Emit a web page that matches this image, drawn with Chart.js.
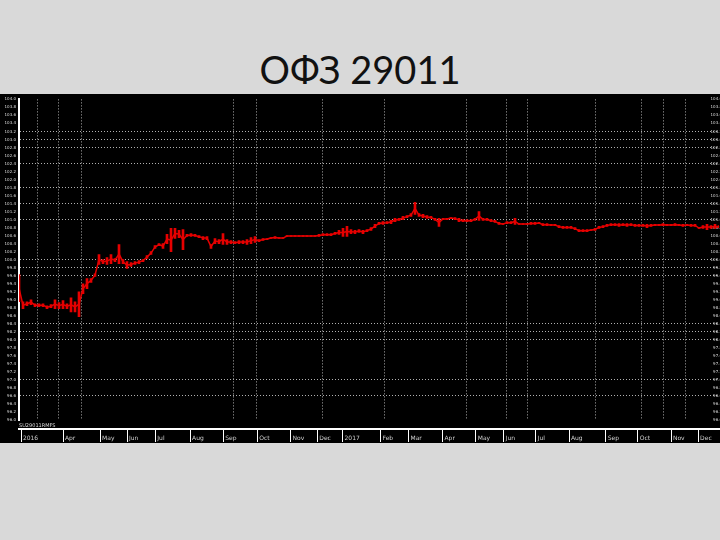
<!DOCTYPE html>
<html>
<head>
<meta charset="utf-8">
<script src="https://cdn.jsdelivr.net/npm/chart.js@4.4.1/dist/chart.umd.min.js"></script>
<style>
  body { margin: 0; width: 720px; height: 540px; background: #d9d9d9; overflow: hidden; position: relative; }
  #title { position: absolute; top: 50px; left: 0; width: 720px; text-align: center;
           font-family: Lato, "Open Sans", sans-serif; font-size: 38px; line-height: 1; color: #111; }
  #wrap { position: absolute; top: 94px; left: 0; width: 720px; height: 349px; background: #000; }
</style>
</head>
<body>
<div id="title">ОФЗ 29011</div>
<div id="wrap"><canvas id="chart" width="720" height="349"></canvas></div>
<script>
// дневные максимумы / минимумы (по торговым дням, шаг примерно 4 px)
const highs = [
  99.63, 98.95, 98.95, 99.00, 98.90, 98.90, 98.90, 98.85, 98.88, 99.00,
  98.93, 98.98, 98.90, 99.05, 98.95, 99.20, 99.40, 99.53, 99.53, 99.65,
  100.13, 100.00, 100.05, 100.13, 100.03, 100.38, 100.00, 99.95, 99.93, 99.95,
  99.98, 100.00, 100.10, 100.20, 100.35, 100.40, 100.40, 100.63, 100.78, 100.78,
  100.73, 100.75, 100.63, 100.65, 100.63, 100.60, 100.58, 100.58, 100.38, 100.53,
  100.50, 100.65, 100.50, 100.48, 100.45, 100.48, 100.48, 100.50, 100.55, 100.58,
  100.50, 100.53, 100.53, 100.55, 100.58, 100.55, 100.55, 100.60, 100.60, 100.60,
  100.60, 100.60, 100.60, 100.60, 100.60, 100.63, 100.65, 100.65, 100.65, 100.68,
  100.73, 100.78, 100.83, 100.75, 100.73, 100.75, 100.73, 100.75, 100.80, 100.88,
  100.93, 100.95, 100.95, 100.98, 101.03, 101.03, 101.08, 101.10, 101.15, 101.43,
  101.15, 101.13, 101.10, 101.08, 101.03, 101.03, 101.03, 101.03, 101.05, 101.05,
  101.03, 101.00, 101.00, 101.00, 101.03, 101.20, 101.03, 101.03, 101.00, 100.98,
  100.93, 100.90, 100.95, 100.95, 101.03, 100.90, 100.90, 100.90, 100.93, 100.93,
  100.93, 100.90, 100.90, 100.88, 100.88, 100.85, 100.83, 100.83, 100.83, 100.80,
  100.75, 100.75, 100.75, 100.75, 100.78, 100.83, 100.85, 100.88, 100.90, 100.90,
  100.90, 100.90, 100.90, 100.90, 100.88, 100.88, 100.88, 100.88, 100.88, 100.88,
  100.88, 100.90, 100.88, 100.88, 100.90, 100.88, 100.88, 100.88, 100.88, 100.88,
  100.80, 100.85, 100.88, 100.85, 100.88, 100.85
];
const lows = [
  98.95, 98.78, 98.85, 98.88, 98.83, 98.83, 98.83, 98.78, 98.80, 98.78,
  98.78, 98.78, 98.78, 98.70, 98.70, 98.58, 99.15, 99.28, 99.43, 99.58,
  99.88, 99.90, 99.88, 99.90, 99.95, 99.90, 99.90, 99.78, 99.83, 99.88,
  99.90, 99.95, 100.03, 100.13, 100.28, 100.35, 100.28, 100.40, 100.20, 100.53,
  100.55, 100.25, 100.58, 100.58, 100.58, 100.55, 100.50, 100.50, 100.28, 100.40,
  100.40, 100.38, 100.38, 100.40, 100.40, 100.40, 100.40, 100.38, 100.40, 100.43,
  100.45, 100.48, 100.50, 100.53, 100.53, 100.53, 100.53, 100.58, 100.58, 100.58,
  100.58, 100.58, 100.58, 100.58, 100.58, 100.58, 100.60, 100.60, 100.60, 100.63,
  100.63, 100.58, 100.58, 100.65, 100.65, 100.68, 100.65, 100.70, 100.73, 100.80,
  100.88, 100.88, 100.90, 100.90, 100.95, 100.98, 101.00, 101.05, 101.08, 101.13,
  101.08, 101.05, 101.03, 101.03, 100.98, 100.83, 101.00, 101.00, 101.03, 101.00,
  100.95, 100.95, 100.95, 100.95, 100.98, 100.98, 100.98, 100.98, 100.95, 100.93,
  100.88, 100.88, 100.90, 100.90, 100.88, 100.88, 100.88, 100.88, 100.88, 100.88,
  100.90, 100.85, 100.85, 100.85, 100.85, 100.80, 100.78, 100.78, 100.78, 100.75,
  100.70, 100.70, 100.70, 100.73, 100.73, 100.78, 100.80, 100.83, 100.85, 100.85,
  100.83, 100.85, 100.83, 100.85, 100.83, 100.83, 100.83, 100.80, 100.83, 100.85,
  100.85, 100.85, 100.85, 100.85, 100.85, 100.85, 100.83, 100.85, 100.83, 100.83,
  100.78, 100.78, 100.75, 100.78, 100.78, 100.80
];

// уровни горизонтальной сетки (цена)
const gridPrices = [103.2, 103.0, 102.8, 102.4, 101.8, 101.4, 101.0, 100.0, 99.8, 99.6, 98.4, 98.2, 98.0, 97.0, 96.6];
// вертикальная сетка (номер торгового дня)
const gridDays = [4.5, 9.8, 15.5, 53.6, 59.3, 75.9, 91.4, 111.9, 121.9, 127.2, 144.2, 155.5, 161.2, 166.5];
// подписи месяцев внизу
const monthDays = [0.5, 11.0, 20.3, 27.0, 34.1, 42.8, 51.1, 59.6, 67.9, 74.6, 80.9,
                   90.4, 97.4, 105.9, 114.2, 121.2, 129.2, 137.5, 146.7, 154.7, 163.0, 169.8];
const monthLabels = ["2016", "Apr", "May", "Jun", "Jul", "Aug", "Sep", "Oct", "Nov", "Dec", "2017",
                     "Feb", "Mar", "Apr", "May", "Jun", "Jul", "Aug", "Sep", "Oct", "Nov", "Dec"];

const tinyFont = { family: "DejaVu Sans", size: 4 };
const gridGrey = "rgba(185,185,185,0.95)";
const red = "#e60000";

new Chart(document.getElementById("chart").getContext("2d"), {
    type: "bar",
    data: {
        datasets: [
            {
                // диапазон дня (мин–макс)
                data: highs.map((h, i) => ({ x: i, y: [lows[i], h] })),
                backgroundColor: red,
                borderWidth: 0,
                barThickness: 2,
            },
            {
                // середина диапазона, связывает бары в линию
                type: "line",
                data: highs.map((h, i) => ({ x: i, y: (h + lows[i]) / 2 })),
                borderColor: red,
                borderWidth: 1.5,
                pointRadius: 0,
                tension: 0,
            },
        ],
    },
    options: {
        responsive: false,
        animation: false,
        devicePixelRatio: 1,
        layout: { padding: { top: 3, right: 1, left: 0, bottom: 0 } },
        plugins: { legend: { display: false }, tooltip: { enabled: false } },
        scales: {
            x: {
                type: "linear", position: "bottom", weight: 0,
                min: 0, max: 175, offset: false,
                afterBuildTicks: (axis) => { axis.ticks = gridDays.map((v) => ({ value: v })); },
                afterFit: (axis) => { axis.height = 9; },
                ticks: { display: false },
                grid: { color: gridGrey, lineWidth: 1, drawTicks: false, offset: false },
                border: { display: false, dash: [1, 2] },
                title: { display: true, text: "SU29011RMFS", align: "start", color: "#ddd",
                         font: { family: "DejaVu Sans", size: 5 }, padding: { top: 1, bottom: 0 } },
            },
            x2: {
                type: "linear", position: "bottom", weight: 1,
                min: 0, max: 175, offset: false,
                afterBuildTicks: (axis) => { axis.ticks = monthDays.map((v) => ({ value: v })); },
                afterFit: (axis) => { axis.height = 14; },
                ticks: {
                    autoSkip: false, maxRotation: 0, align: "start", padding: -7,
                    color: "#cfcfcf", font: { family: "DejaVu Sans", size: 6 },
                    callback: (v, i) => " " + monthLabels[i],
                },
                grid: { drawOnChartArea: false, drawTicks: true, tickLength: 13, color: "#fff", offset: false },
                border: { display: true, color: "#fff", width: 2 },
            },
            y: {
                position: "left", min: 96, max: 104,
                afterFit: (axis) => { axis.width = 19; },
                ticks: {
                    stepSize: 0.2, autoSkip: false, padding: 3, color: "#ddd", font: tinyFont,
                    callback: (v) => v.toFixed(1),
                },
                grid: {
                    drawTicks: false,
                    color: (ctx) => {
                        if (!ctx.tick) return "rgba(0,0,0,0)";
                        const hit = gridPrices.some((g) => Math.abs(g - ctx.tick.value) < 0.01);
                        return hit ? gridGrey : "rgba(0,0,0,0)";
                    },
                },
                border: { display: true, color: "#fff", width: 2, dash: [1, 2] },
            },
            y2: {
                position: "right", min: 96, max: 104,
                afterFit: (axis) => { axis.width = 0; },
                ticks: {
                    stepSize: 0.2, autoSkip: false, mirror: true, padding: 3, color: "#ddd", font: tinyFont,
                    callback: (v) => v.toFixed(1),
                },
                grid: { display: false },
                border: { display: false },
            },
        },
    },
});
</script>
</body>
</html>
